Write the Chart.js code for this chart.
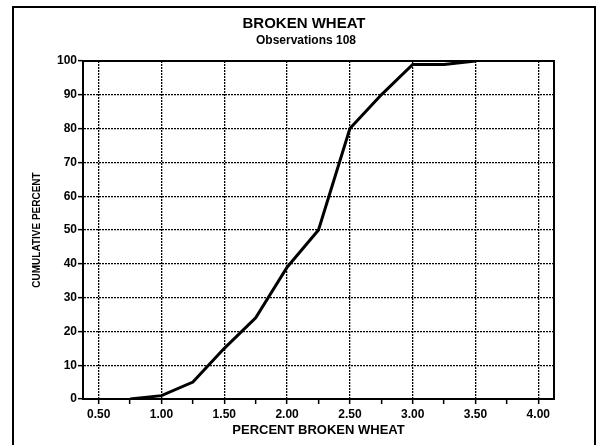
<!DOCTYPE html>
<html>
<head>
<meta charset="utf-8">
<script src="https://cdn.jsdelivr.net/npm/chart.js@4/dist/chart.umd.min.js"></script>
<style>
  html, body { margin: 0; padding: 0; background: #fff; }
  #wrap { width: 597px; height: 445px; }
</style>
</head>
<body>
<div id="wrap"><canvas id="wheatChart" width="597" height="445"></canvas></div>
<script>
const percentBroken = [0.75, 1.0, 1.25, 1.5, 1.75, 2.0, 2.25, 2.5, 2.75, 3.0, 3.25, 3.5];
const cumulativePercent = [0, 1, 5, 15, 24, 39, 50, 80, 90, 99, 99, 100];
const xTicks = [0.5, 0.75, 1.0, 1.25, 1.5, 1.75, 2.0, 2.25, 2.5, 2.75, 3.0, 3.25, 3.5, 3.75, 4.0];
const xTickLabels = ["0.50", "1.00", "1.50", "2.00", "2.50", "3.00", "3.50", "4.00"];
const yTicks = [0, 10, 20, 30, 40, 50, 60, 70, 80, 90, 100];
const chartTitle = "BROKEN WHEAT";
const chartSubtitle = "Observations 108";

const isMajor = (v) => Math.abs(v * 2 - Math.round(v * 2)) < 1e-6;
const font = "'Liberation Sans', Arial, sans-serif";

// outer frame, plot box and the two title lines
const framePlugin = {
  id: "frame",
  beforeDraw(chart) {
    const ctx = chart.ctx;
    ctx.save();
    ctx.fillStyle = "#fff";
    ctx.fillRect(0, 0, chart.width, chart.height);
    ctx.strokeStyle = "#000";
    ctx.lineWidth = 2;
    ctx.beginPath();
    ctx.moveTo(13, 445);
    ctx.lineTo(13, 7);
    ctx.lineTo(595, 7);
    ctx.lineTo(595, 445);
    ctx.stroke();

    ctx.fillStyle = "#000";
    ctx.textAlign = "center";
    ctx.textBaseline = "middle";
    ctx.font = "bold 15px " + font;
    ctx.fillText(chartTitle, 304, 24);
    ctx.font = "bold 12px " + font;
    ctx.fillText(chartSubtitle, 306, 41);
    ctx.restore();
  },
  afterDraw(chart) {
    const { left, top, right, bottom } = chart.chartArea;
    const ctx = chart.ctx;
    ctx.save();
    ctx.strokeStyle = "#000";
    ctx.lineWidth = 2;
    ctx.strokeRect(left, top, right - left, bottom - top);
    ctx.restore();
  },
};

new Chart(document.getElementById("wheatChart"), {
  type: "line",
  data: {
    datasets: [
      {
        data: percentBroken.map((x, i) => ({ x, y: cumulativePercent[i] })),
        borderColor: "#000",
        borderWidth: 3,
        pointRadius: 0,
        tension: 0,
        fill: false,
      },
    ],
  },
  options: {
    responsive: false,
    animation: false,
    layout: { padding: { left: 0, right: 43, top: 61, bottom: 0 } },
    plugins: {
      legend: { display: false },
      tooltip: { enabled: false },
      title: { display: false },
    },
    scales: {
      x: {
        type: "linear",
        min: 0.375,
        max: 4.125,
        afterBuildTicks(scale) {
          scale.ticks = xTicks.map((v) => ({ value: v }));
        },
        afterFit(scale) {
          scale.height = 46;
        },
        ticks: {
          color: "#000",
          padding: 3,
          maxRotation: 0,
          autoSkip: false,
          font: { family: font, size: 12, weight: "bold" },
          callback: (v) => (isMajor(v) ? xTickLabels[Math.round((v - 0.5) * 2)] : ""),
        },
        grid: {
          color: (ctx) => (ctx.tick && isMajor(ctx.tick.value) ? "#000" : "rgba(0,0,0,0)"),
          lineWidth: 1.3,
          tickColor: "#000",
          tickLength: 5,
          tickWidth: 1.5,
        },
        border: { display: true, color: "#000", width: 2, dash: [2, 1] },
        title: {
          display: true,
          text: "PERCENT BROKEN WHEAT",
          color: "#000",
          font: { family: font, size: 13, weight: "bold" },
          padding: { top: 0, bottom: 7 },
        },
      },
      y: {
        min: 0,
        max: 100,
        afterBuildTicks(scale) {
          scale.ticks = yTicks.map((v) => ({ value: v }));
        },
        afterFit(scale) {
          scale.width = 83;
        },
        ticks: {
          color: "#000",
          padding: 1,
          font: { family: font, size: 12, weight: "bold" },
        },
        grid: {
          color: "#000",
          lineWidth: 1.3,
          tickColor: "#000",
          tickLength: 5,
          tickWidth: 1.5,
        },
        border: { display: true, color: "#000", width: 2, dash: [2, 1] },
        title: {
          display: true,
          text: "CUMULATIVE PERCENT",
          color: "#000",
          font: { family: font, size: 10, weight: "bold" },
          padding: { top: 31, bottom: 0 },
        },
      },
    },
  },
  plugins: [framePlugin],
});
</script>
</body>
</html>
